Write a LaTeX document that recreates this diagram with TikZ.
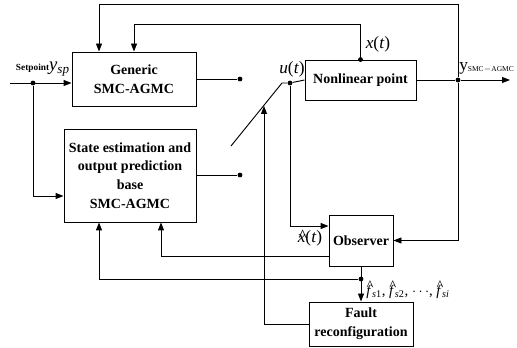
\documentclass[tikz,border=0pt]{standalone}
\usepackage{fontspec}
\setmainfont{Liberation Serif}
\usetikzlibrary{arrows.meta}
\tikzset{
  block/.style={draw, line width=0.7pt, font=\bfseries\fontsize{10.5}{14}\selectfont, align=center, inner sep=1pt},
  link/.style={line width=0.7pt},
  flow/.style={line width=0.7pt, -{Triangle[length=6pt,width=4.5pt]}},
  junction/.style={circle, fill, inner sep=0pt, minimum size=3.6pt},
  sig/.style={font=\fontsize{13}{14}\selectfont, inner sep=0pt}
}
% italic letter with a hat over it
\newcommand{\hatit}[2]{\ooalign{\textit{#1}\cr\hidewidth\kern0.12em\raisebox{#2}{\^{}}\hidewidth\cr}}

\begin{document}
\begin{tikzpicture}[x=0.75pt, y=-0.75pt]
  \useasboundingbox (0,0) rectangle (517,348);

  % blocks
  \node[block, minimum width=93pt, minimum height=40.5pt] (gen) at (134,79) {Generic\\SMC-AGMC};
  \node[block, minimum width=99pt, minimum height=69.75pt] (est) at (130,175.5) {State estimation and\\output prediction\\base\\SMC-AGMC};
  \node[block, minimum width=83.25pt, minimum height=30pt] (plant) at (360.5,80) {Nonlinear point};
  \node[block, minimum width=48pt, minimum height=38.25pt] (obs) at (361,240.5) {Observer};
  \node[block, minimum width=78pt, minimum height=33pt] (fault) at (361,324) {Fault\\reconfiguration};

  % junctions and free ends
  \coordinate (in) at (10,83);
  \node[junction] (sp) at (33,83) {};
  \node[junction] (g1) at (240,79) {};
  \node[junction] (s1) at (240,175) {};
  \coordinate (sw) at (231,146);
  \coordinate (knee) at (282,83);
  \node[junction] (u) at (290,83) {};
  \node[junction] (xt) at (plant.north) {};
  \node[junction] (yo) at (458,80) {};
  \coordinate (out) at (510,80);
  \node[junction] (fd) at (361,279) {};
  \coordinate (tip) at (264,106);

  % forward path
  \draw[flow] (in) -- (gen.west |- sp);
  \draw[flow] (sp) |- (est.west |- 0,196);
  \draw[link] (gen.east |- g1) -- (g1);
  \draw[link] (est.east |- s1) -- (s1);
  \draw[link] (sw) -- (knee) -- (u) -- (plant.west);
  \draw[link] (plant.east) -- (yo);
  \draw[flow] (yo) -- (out);

  % feedback
  \draw[flow] (xt) -- (xt |- 0,24) -| (gen.north);
  \draw[flow] (yo) -- (yo |- 0,4) -| ([xshift=-26.25pt]gen.north);
  \draw[flow] (yo) |- (obs.east);
  \draw[flow] (u) |- (obs.west |- 0,226);
  \draw[flow] (obs.west |- 0,256) -| (est.south -| 161,0);
  \draw[flow] (obs.south) -- (fault.north);
  \draw[flow] (fd) -| (est.south -| 99,0);
  \draw[flow] (fault.west) -| (tip);

  % labels
  \node[anchor=east, inner sep=0pt] at (70,69) {\bfseries\scriptsize Setpoint\fontsize{14}{14}\selectfont\mdseries\textit{y}\textsubscript{\textit{sp}}};
  \node[sig] at (292,69) {\textit{u}(\textit{t})};
  \node[sig] at (378,44) {\textit{x}(\textit{t})};
  \node[anchor=west, inner sep=0pt] at (459,68) {\fontsize{13}{14}\selectfont y\raisebox{-1pt}{\fontsize{5.6}{7}\selectfont SMC$-$AGMC}};
  \node[sig] at (310,238) {\hatit{x}{0.1ex}(\textit{t})};
  \node[anchor=west, inner sep=0pt, font=\fontsize{11}{14}\selectfont] at (366,291) {\hatit{f}{0.6ex}\textsubscript{\textit{s}1}, \hatit{f}{0.6ex}\textsubscript{\textit{s}2}, $\cdots$, \hatit{f}{0.6ex}\textsubscript{\textit{si}}};
\end{tikzpicture}
\end{document}
